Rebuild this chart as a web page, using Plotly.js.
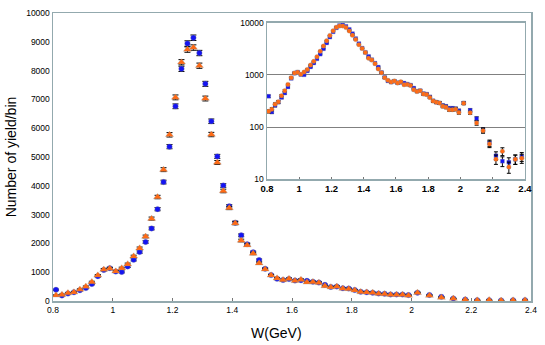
<!DOCTYPE html>
<html>
<head>
<meta charset="utf-8">
<script src="https://cdn.plot.ly/plotly-3.0.1.min.js"></script>
<style>
  html, body { margin: 0; padding: 0; background: #fff; }
  #chart { width: 545px; height: 345px; }
</style>
</head>
<body>
<div id="chart"></div>
<script>
// W bin centres (GeV)
const wBins = [
  0.81, 0.83, 0.85, 0.87, 0.89, 0.91, 0.93, 0.95, 0.97, 0.99,
  1.01, 1.03, 1.05, 1.07, 1.09, 1.11, 1.13, 1.15, 1.17, 1.19,
  1.21, 1.23, 1.25, 1.27, 1.29, 1.31, 1.33, 1.35, 1.37, 1.39,
  1.41, 1.43, 1.45, 1.47, 1.49, 1.51, 1.53, 1.55, 1.57, 1.59,
  1.61, 1.63, 1.65, 1.67, 1.69, 1.71, 1.73, 1.75, 1.77, 1.79,
  1.81, 1.83, 1.85, 1.87, 1.89, 1.91, 1.93, 1.95, 1.97, 1.99,
  2.02, 2.06, 2.10, 2.14, 2.18, 2.22, 2.26, 2.30, 2.34, 2.38
];

// blue series (yield per bin)
const yieldBlue = [
  390, 195, 260, 300, 370, 450, 590, 860, 1080, 1140,
  1020, 1010, 1200, 1430, 1700, 2050, 2520, 3190, 4130, 5360,
  6760, 8060, 8940, 9140, 8610, 7540, 6240, 5020, 4010, 3290,
  2720, 2280, 1970, 1690, 1420, 1120, 900, 770, 730, 760,
  710, 720, 700, 670, 640, 560, 490, 500, 440, 430,
  380, 320, 300, 290, 260, 250, 230, 230, 225, 205,
  290, 210, 145, 88, 49, 28, 22, 21, 24, 27
];

// orange series (yield per bin)
const yieldOrange = [
  200, 220, 275, 305, 400, 500, 660, 890, 1090, 1130,
  1030, 1140, 1280, 1550, 1830, 2240, 2860, 3610, 4560, 5770,
  7070, 8290, 8730, 8800, 8170, 7030, 5780, 4810, 3820, 3230,
  2700, 2100, 1940, 1650, 1310, 1100, 890, 790, 730, 770,
  700, 740, 650, 660, 630, 520, 480, 500, 430, 420,
  370, 315, 300, 290, 250, 240, 215, 215, 220, 190,
  285, 188, 119, 85, 47, 24, 34, 17, 24, 25
];

const insetTicks = [10, 100, 1000, 10000];

const blue = '#1414f0';
const orange = '#ff6a14';
const frame = '#93a9ae';

function series(y, color, symbol, size, xa, ya, capw) {
  return {
    x: wBins, y: y, xaxis: xa, yaxis: ya,
    type: 'scatter', mode: 'markers',
    marker: {color: color, symbol: symbol, size: size,
             line: {color: 'rgba(150,150,150,0.6)', width: 0.5}},
    error_y: {type: 'sqrt', visible: true, color: '#000', thickness: 1, width: capw},
    showlegend: false, hoverinfo: 'x+y'
  };
}

const data = [
  series(yieldBlue, blue, 'circle', 5.5, 'x', 'y', 3),
  series(yieldOrange, orange, 'triangle-up', 7, 'x', 'y', 3),
  series(yieldBlue, blue, 'square', 4, 'x2', 'y2', 2),
  series(yieldOrange, orange, 'circle', 4.5, 'x2', 'y2', 2)
];

const tickFont = {family: 'Liberation Sans, Arial, sans-serif', size: 8.5, color: '#000'};

const layout = {
  width: 545, height: 345,
  margin: {l: 53, r: 14, t: 13, b: 44},
  paper_bgcolor: '#fff',
  plot_bgcolor: 'rgba(0,0,0,0)',
  font: {family: 'Liberation Sans, Arial, sans-serif', color: '#000'},
  xaxis: {
    range: [0.8, 2.4], dtick: 0.2, tick0: 0.8,
    showgrid: false, zeroline: false,
    showline: true, mirror: true, linecolor: frame, linewidth: 1.5,
    ticks: 'inside', ticklen: 3, tickcolor: '#777',
    tickfont: tickFont
  },
  yaxis: {
    range: [0, 10000], dtick: 1000, tickformat: 'd',
    showgrid: false, zeroline: false,
    showline: true, mirror: true, linecolor: frame, linewidth: 1.5,
    ticks: '', tickfont: tickFont,
    title: {text: 'Number of yield/bin', font: {size: 14}, standoff: 6}
  },
  xaxis2: {
    anchor: 'y2', domain: [0.4477, 0.9874],
    range: [0.8, 2.4], dtick: 0.2, tick0: 0.8,
    showgrid: false, zeroline: false,
    showline: true, mirror: true, linecolor: frame, linewidth: 1.5,
    ticks: 'inside', ticklen: 2, tickcolor: '#777',
    tickfont: {family: 'Liberation Sans, Arial, sans-serif', size: 9.5, weight: 'bold', color: '#000'}
  },
  yaxis2: {
    anchor: 'x2', domain: [0.4236, 0.9653],
    type: 'log', range: [1, 4],
    tickvals: insetTicks, ticktext: insetTicks.map(String),
    showgrid: true, gridcolor: '#808080', gridwidth: 1,
    zeroline: false,
    showline: true, mirror: true, linecolor: frame, linewidth: 1.5,
    ticks: '', tickfont: tickFont
  },
  annotations: [{
    text: 'W(GeV)', xref: 'paper', yref: 'paper',
    x: 0.4686, y: -0.111, xanchor: 'center', yanchor: 'middle',
    showarrow: false, font: {size: 14}
  }]
};

Plotly.newPlot('chart', data, layout, {displayModeBar: false, staticPlot: true});
</script>
</body>
</html>
